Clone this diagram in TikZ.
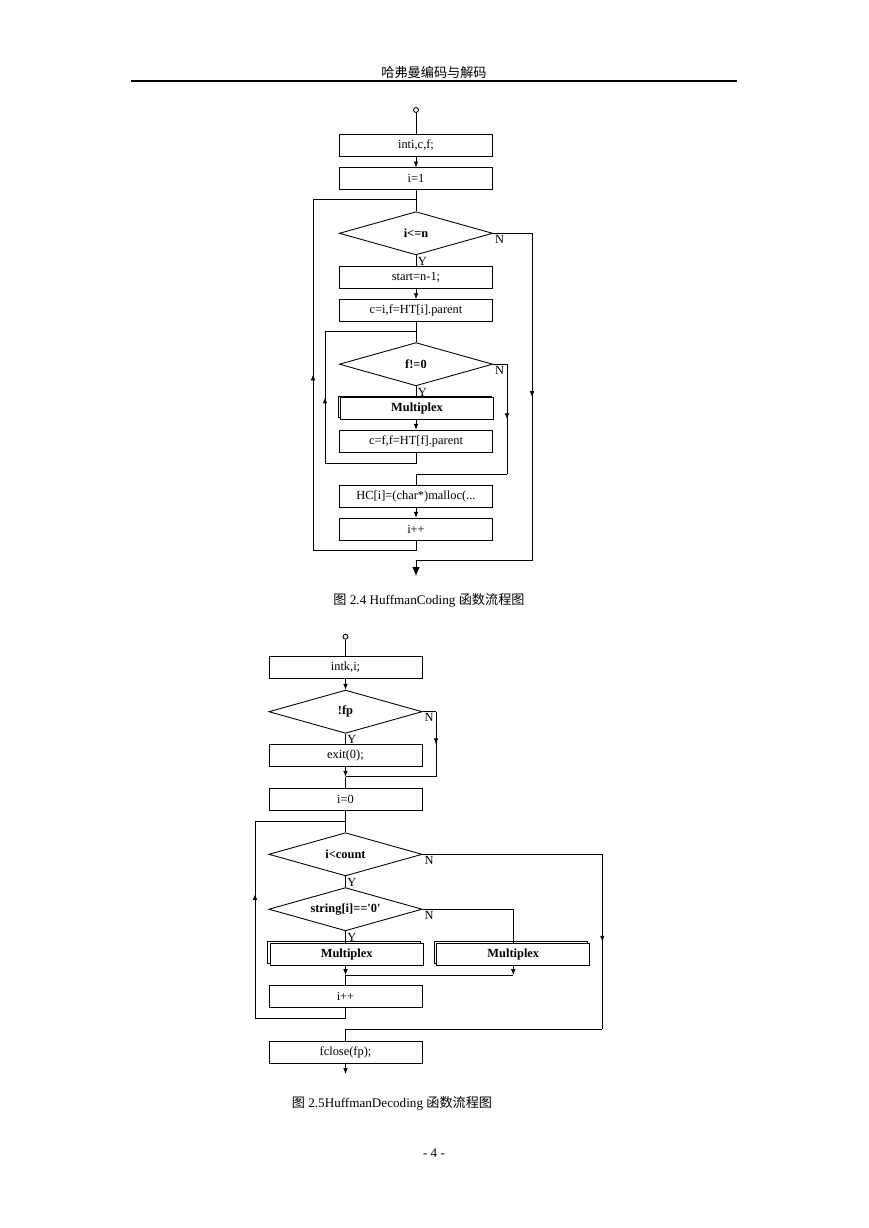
\documentclass[tikz,border=0pt]{standalone}
\usepackage{fontspec}
\setmainfont{Liberation Serif}
\newfontfamily\cjk{Noto Sans CJK SC}
\usepackage{tikz}
\usetikzlibrary{arrows.meta, shapes.geometric, shadows, positioning, decorations.markings}
\newcommand{\condtext}[1]{\makebox[0pt]{#1}}
\tikzstyle{line} = [line width=0.6pt]
\tikzstyle{arrow} = [line, -{Latex[length=4pt, width=3.2pt]}]
\tikzstyle{box} = [draw, line width=0.6pt, fill=white, minimum width=104.8pt, minimum height=15pt, inner sep=0pt, font=\fontsize{8.5}{10}\selectfont]
\tikzstyle{cond} = [draw, diamond, line width=0.6pt, minimum width=105pt, minimum height=29.6pt, inner sep=0pt, font=\fontsize{8.5}{10}\selectfont\bfseries]
\tikzstyle{subproc} = [box, font=\fontsize{8.5}{10}\selectfont\bfseries, general shadow={shadow xshift=-1.6pt, shadow yshift=1.2pt, draw=black, fill=white, line width=0.6pt}]
\tikzstyle{startpt} = [draw, circle, line width=0.6pt, minimum size=3.4pt, inner sep=0pt]
\tikzstyle{lbl} = [font=\fontsize{8.5}{10}\selectfont, inner sep=1pt, below right]
\tikzset{midarrow/.style={line, postaction={decorate}, decoration={markings, mark=at position #1 with {\arrow{Latex[length=4pt, width=3.2pt]}}}}, midarrow/.default=0.5}

\begin{document}
\begin{tikzpicture}[x=0.6847pt, y=-0.6847pt]
\useasboundingbox (0,0) rectangle (869,1228);

% page header
\node[font=\cjk\fontsize{9}{11}\selectfont] (head) at (434,72) {哈弗曼编码与解码};
\draw[line width=0.8pt] (131,81) -- (737,81);

% HuffmanCoding
\node[startpt] (s1) at (416,110) {};
\node[box] (b1) at (416,145.5) {inti,c,f;};
\node[box] (b2) at (416,178.8) {i=1};
\node[cond] (d1) at (416,233.3) {\condtext{i<=n}};
\node[box] (b3) at (416,277.2) {start=n-1;};
\node[box] (b4) at (416,310.5) {c=i,f=HT[i].parent};
\node[cond] (d2) at (416,364.2) {\condtext{f!=0}};
\node[subproc] (m1) at (417,408.7) {Multiplex};
\node[box] (b5) at (416,441.2) {c=f,f=HT[f].parent};
\node[box] (b6) at (416,496.2) {HC[i]=(char*)malloc(...};
\node[box] (b7) at (416,529.2) {i++};

\coordinate (j1) at (416,199.3);
\coordinate (j2) at (416,331.7);
\coordinate (j3) at (416,474);
\coordinate (j4) at (416,560.7);
\coordinate (endA) at (416,576);
\coordinate (ol2) at (313,550);
\coordinate (ol3) at (313,199.3);
\coordinate (il2) at (325,463.3);
\coordinate (il3) at (325,331.7);
\coordinate (n1a) at (532,233.3);
\coordinate (n1b) at (532,560.7);
\coordinate (n2a) at (507,364.2);
\coordinate (n2b) at (507,474);

\draw[line] (s1) -- (b1);
\draw[arrow] (b1) -- (b2);
\draw[line] (b2) -- (d1);
\draw[line] (d1.south) node[lbl] {Y} -- (b3);
\draw[arrow] (b3) -- (b4);
\draw[line] (b4) -- (d2);
\draw[line] (d2.south) node[lbl] {Y} -- (d2.south |- m1.north);
\draw[arrow] (m1.south -| b5) -- (b5);
% inner loop
\draw[line] (b5) |- (il2);
\draw[midarrow] (il2) -- (il3);
\draw[line] (il3) -- (j2);
\draw[line] (d2.east) node[lbl] {N} -- (n2a);
\draw[midarrow] (n2a) -- (n2b);
\draw[line] (n2b) -- (j3) -- (b6);
\draw[arrow] (b6) -- (b7);
% outer loop
\draw[line] (b7) |- (ol2);
\draw[midarrow] (ol2) -- (ol3);
\draw[line] (ol3) -- (j1);
\draw[line] (d1.east) node[lbl] {N} -- (n1a);
\draw[midarrow] (n1a) -- (n1b);
\draw[line] (n1b) -- (j4);
\draw[line, -{Latex[length=6pt, width=5pt]}] (j4) -- (endA);

\node[font=\fontsize{9}{11}\selectfont] (cap1) at (429,600) {{\cjk 图} 2.4 HuffmanCoding {\cjk 函数流程图}};

% HuffmanDecoding
\node[startpt] (s2) at (345.5,636.7) {};
\node[box] (c1) at (345.5,667.5) {intk,i;};
\node[cond] (q1) at (345.5,711.7) {\condtext{!fp}};
\node[box] (c2) at (345.5,755.5) {exit(0);};
\node[box] (c3) at (345.5,799.2) {i=0};
\node[cond] (q2) at (345.5,854.3) {\condtext{i<count}};
\node[cond] (q3) at (345.5,909.2) {\condtext{string[i]==\textquotesingle0\textquotesingle}};
\node[subproc] (m2) at (346.7,954.2) {Multiplex};
\node[subproc] (m3) at (513.3,954.2) {Multiplex};
\node[box] (c4) at (345.5,996.7) {i++};
\node[box] (c5) at (345.5,1052) {fclose(fp);};

\coordinate (k1) at (345.5,776.7);
\coordinate (k2) at (345.5,821);
\coordinate (k3) at (345.5,975);
\coordinate (k4) at (345.5,1029);
\coordinate (endB) at (345.5,1074);
\coordinate (p1a) at (436,711.7);
\coordinate (p1b) at (436,776.7);
\coordinate (p2a) at (602.3,854.3);
\coordinate (p2b) at (602.3,1029);
\coordinate (lp2) at (255,1018.3);
\coordinate (lp3) at (255,821);

\draw[line] (s2) -- (c1);
\draw[arrow] (c1) -- (q1);
\draw[line] (q1.south) node[lbl] {Y} -- (c2);
\draw[line] (q1.east) node[lbl] {N} -- (p1a);
\draw[midarrow] (p1a) -- (p1b);
\draw[line] (p1b) -- (k1);
\draw[arrow] (c2) -- (k1);
\draw[line] (k1) -- (c3);
\draw[line] (c3) -- (q2);
\draw[line] (q2.south) node[lbl] {Y} -- (q3);
\draw[line] (q3.south) node[lbl] {Y} -- (q3.south |- m2.north);
\draw[line] (q3.east) node[lbl] {N} -| (m3.north);
\draw[arrow] (q3.south |- m2.south) -- (k3);
\draw[arrow] (m3.south) -- (m3.south |- k3);
\draw[line] (k3) -- (m3.south |- k3);
\draw[line] (k3) -- (c4);
\draw[line] (c4) |- (lp2);
\draw[midarrow=0.63] (lp2) -- (lp3);
\draw[line] (lp3) -- (k2);
\draw[line] (q2.east) node[lbl] {N} -- (p2a);
\draw[midarrow] (p2a) -- (p2b);
\draw[line] (p2b) -- (k4) -- (c5);
\draw[arrow] (c5) -- (endB);

\node[font=\fontsize{9}{11}\selectfont] (cap2) at (392,1103.3) {{\cjk 图} 2.5HuffmanDecoding {\cjk 函数流程图}};
\node[font=\fontsize{9}{11}\selectfont] (pg) at (434,1153) {- 4 -};
\end{tikzpicture}
\end{document}
